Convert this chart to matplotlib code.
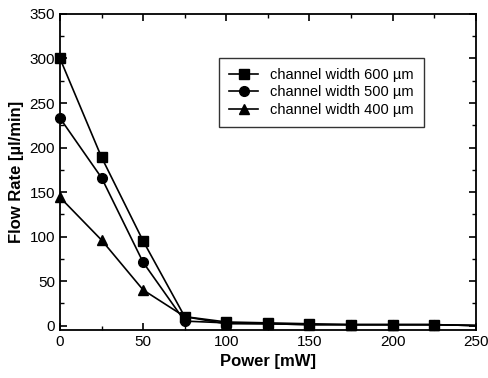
import matplotlib
matplotlib.use("Agg")
import matplotlib.pyplot as plt
from matplotlib.ticker import MultipleLocator

power = [0, 25, 50, 75, 100, 125, 150, 175, 200, 225, 250]
flow_600 = [300, 189, 95, 10, 4, 3, 2, 1, 1, 1, 0]
flow_500 = [233, 166, 71, 5, 3, 2, 1, 1, 1, 1, 0]
flow_400 = [144, 96, 40, 10, 2, 2, 1, 1, 1, 1, 0]
labels = ["channel width 600 \u00b5m", "channel width 500 \u00b5m", "channel width 400 \u00b5m"]

plt.rcParams['font.family'] = ['Liberation Sans', 'DejaVu Sans']

fig = plt.figure(figsize=(4.89, 3.78), dpi=100)
ax = fig.add_axes([0.1227, 0.127, 0.85, 0.836])

mk = list(range(len(power) - 1))
ax.plot(power, flow_600, color='black', lw=1.2, ls='-', marker='s', ms=7, markevery=mk, label=labels[0], clip_on=False)
ax.plot(power, flow_500, color='black', lw=1.2, ls='-', marker='o', ms=7, markevery=mk, label=labels[1], clip_on=False)
ax.plot(power, flow_400, color='black', lw=1.2, ls='-', marker='^', ms=7, markevery=mk, label=labels[2], clip_on=False)

ax.set_xlim(0, 250)
ax.set_ylim(-5, 350)
ax.xaxis.set_major_locator(MultipleLocator(50))
ax.xaxis.set_minor_locator(MultipleLocator(25))
ax.yaxis.set_major_locator(MultipleLocator(50))
ax.yaxis.set_minor_locator(MultipleLocator(25))
ax.tick_params(which='both', direction='in', top=True, right=True, labelsize=11)
ax.tick_params(which='major', length=5, width=1.2)
ax.tick_params(which='minor', length=3, width=1)
for s in ax.spines.values():
    s.set_linewidth(1.3)

ax.set_xlabel("Power [mW]", fontsize=12, fontweight='bold')
ax.set_ylabel("Flow Rate [\u00b5l/min]", fontsize=12, fontweight='bold')

leg = ax.legend(loc='upper left', bbox_to_anchor=(0.365, 0.885), frameon=True, fancybox=False,
                edgecolor='black', fontsize=10.5, handlelength=2.0, borderpad=0.7, labelspacing=0.25)
leg.get_frame().set_linewidth(1.0)

fig.savefig("out.png", dpi=100)
